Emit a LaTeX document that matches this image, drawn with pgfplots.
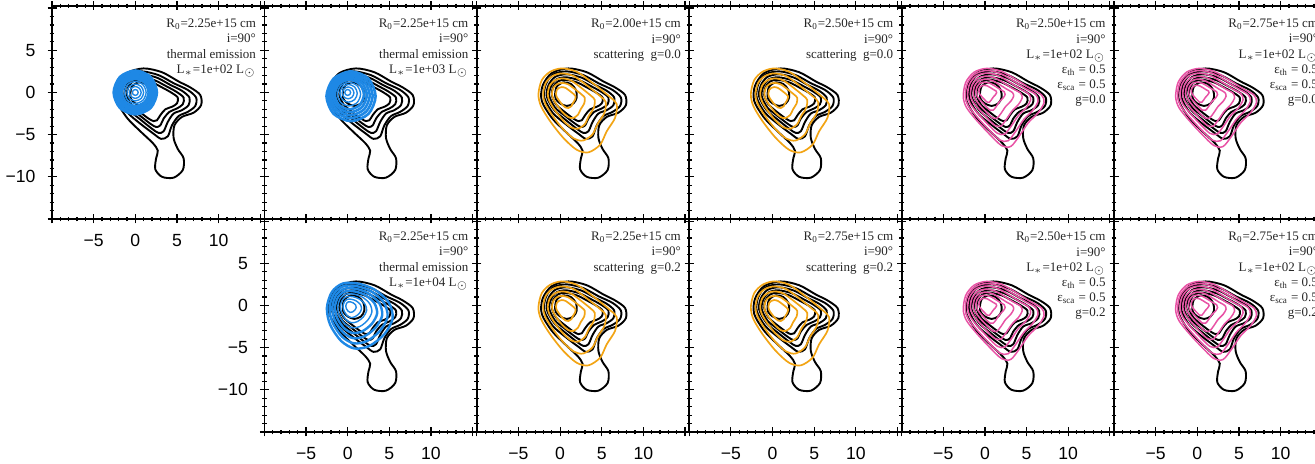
\documentclass[border=0pt]{standalone}
\usepackage{fontspec}
\setmainfont{Liberation Serif}
\setsansfont{Liberation Sans}
\usepackage{pgfplots}
\usepackage{pgfplotstable}
\pgfplotsset{compat=1.18}

\definecolor{thermblue}{RGB}{30,136,229}
\definecolor{scatorange}{RGB}{242,164,20}
\definecolor{mixpink}{RGB}{232,82,165}

% ---------------- observed contours (same in every panel) ----------------
\pgfplotstableread{
x y
-2.2 -1.0
-2.1 0.8
-1.0 2.3
1.0 2.85
3.2 2.4
5.2 1.3
6.6 0.6
7.8 -0.3
7.9 -1.5
7.0 -2.4
5.6 -2.9
4.7 -3.9
4.6 -5.4
5.1 -6.7
5.8 -7.8
5.7 -9.2
4.6 -10.1
3.2 -10.0
2.4 -9.1
2.5 -7.8
2.7 -6.9
2.1 -6.0
0.6 -4.6
-1.0 -3.0
}\obsOuter

\pgfplotstableread{
x2 y2 x3 y3 x4 y4 x5 y5
-1.9 -0.6 -1.6 -0.5 -1.3 -0.4 -1.0 -0.3
-1.7 1.0 -1.4 0.85 -1.1 0.7 -0.85 0.6
-0.8 2.15 -0.6 1.85 -0.45 1.55 -0.3 1.3
0.8 2.5 0.8 2.15 0.7 1.8 0.6 1.5
2.8 2.05 2.6 1.75 2.3 1.45 2.0 1.2
4.6 1.1 4.2 0.9 3.7 0.75 3.2 0.6
6.3 0.3 5.6 0.2 4.9 0.1 4.3 0.0
7.3 -0.6 6.5 -0.6 5.8 -0.6 5.1 -0.6
7.2 -1.6 6.4 -1.5 5.7 -1.4 5.0 -1.3
6.3 -2.3 5.6 -2.1 5.0 -1.9 4.4 -1.7
5.2 -2.8 4.6 -2.5 4.1 -2.3 3.6 -2.0
4.4 -3.9 3.9 -3.5 3.4 -3.1 3.0 -2.7
3.9 -5.2 3.4 -4.6 3.0 -3.9 2.6 -3.3
3.1 -5.5 2.8 -4.8 2.5 -4.1 2.2 -3.4
2.2 -4.9 2.0 -4.3 1.8 -3.7 1.6 -3.1
0.6 -3.7 0.6 -3.2 0.5 -2.7 0.4 -2.2
-0.9 -2.4 -0.7 -2.1 -0.6 -1.8 -0.5 -1.4
}\obsInner

\pgfplotstableread{
x y
-0.6 -0.2
-0.4 0.7
0.4 1.2
1.3 1.0
1.9 0.3
2.0 -0.6
1.6 -1.3
0.8 -1.6
0.0 -1.3
-0.5 -0.8
}\obsCore

% ---------------- thermal emission models ----------------
\pgfplotstableread{
x1 y1 x2 y2 x3 y3 x4 y4 x5 y5 x6 y6 x7 y7 x8 y8 x9 y9
0.35 0 0.7 0 1 0 1.3 0 1.6 0 1.85 0 2.1 0 2.35 0 2.6 0
0.25 0.25 0.49 0.49 0.71 0.71 0.92 0.92 1.13 1.13 1.31 1.31 1.48 1.48 1.66 1.66 1.84 1.84
0 0.35 0 0.7 0 1 0 1.3 0 1.6 0 1.85 0 2.1 0 2.35 0 2.6
-0.25 0.25 -0.49 0.49 -0.71 0.71 -0.92 0.92 -1.13 1.13 -1.31 1.31 -1.48 1.48 -1.66 1.66 -1.84 1.84
-0.35 0 -0.7 0 -1 0 -1.3 0 -1.6 0 -1.85 0 -2.1 0 -2.35 0 -2.6 0
-0.25 -0.25 -0.49 -0.49 -0.71 -0.71 -0.92 -0.92 -1.13 -1.13 -1.31 -1.31 -1.48 -1.48 -1.66 -1.66 -1.84 -1.84
0 -0.35 0 -0.7 0 -1 0 -1.3 0 -1.6 0 -1.85 0 -2.1 0 -2.35 0 -2.6
0.25 -0.25 0.49 -0.49 0.71 -0.71 0.92 -0.92 1.13 -1.13 1.31 -1.31 1.48 -1.48 1.66 -1.66 1.84 -1.84
}\thermA

\pgfplotstableread{
x1 y1 x2 y2 x3 y3 x4 y4 x5 y5 x6 y6 x7 y7 x8 y8 x9 y9
0.35 0 0.75 -0.05 1.15 -0.1 1.55 -0.2 1.95 -0.25 2.3 -0.3 2.65 -0.35 3.0 -0.4 3.35 -0.45
0.25 0.25 0.54 0.44 0.84 0.64 1.14 0.79 1.44 0.99 1.7 1.15 1.96 1.31 2.22 1.47 2.49 1.64
0 0.35 0.05 0.65 0.1 0.95 0.15 1.2 0.2 1.5 0.25 1.75 0.3 2.0 0.35 2.25 0.4 2.5
-0.25 0.25 -0.44 0.44 -0.64 0.64 -0.84 0.79 -1.04 0.99 -1.2 1.15 -1.36 1.31 -1.52 1.47 -1.69 1.64
-0.35 0 -0.65 -0.05 -0.95 -0.1 -1.25 -0.2 -1.55 -0.25 -1.8 -0.3 -2.05 -0.35 -2.3 -0.4 -2.55 -0.45
-0.25 -0.25 -0.44 -0.54 -0.64 -0.84 -0.84 -1.19 -1.04 -1.49 -1.2 -1.75 -1.36 -2.01 -1.52 -2.27 -1.69 -2.54
0 -0.35 0.05 -0.75 0.1 -1.15 0.15 -1.6 0.2 -2.0 0.25 -2.35 0.3 -2.7 0.35 -3.05 0.4 -3.4
0.25 -0.25 0.54 -0.54 0.84 -0.84 1.14 -1.19 1.44 -1.49 1.7 -1.75 1.96 -2.01 2.22 -2.27 2.49 -2.54
}\thermB

\pgfplotstableread{
x1 y1 x2 y2 x3 y3 x4 y4 x5 y5 x6 y6 x7 y7 x8 y8
-2.5 -0.3 -2.18 -0.26 -1.85 -0.23 -1.53 -0.19 -1.2 -0.16 -0.88 -0.12 -0.56 -0.08 -0.23 -0.05
-1.9 1.6 -1.65 1.41 -1.4 1.22 -1.14 1.02 -0.89 0.83 -0.64 0.64 -0.39 0.45 -0.14 0.26
-0.6 2.6 -0.5 2.29 -0.41 1.98 -0.31 1.66 -0.22 1.35 -0.12 1.04 -0.02 0.73 0.07 0.42
1.2 2.6 1.08 2.29 0.96 1.98 0.84 1.66 0.72 1.35 0.6 1.04 0.48 0.73 0.36 0.42
3.2 1.9 2.84 1.67 2.48 1.44 2.12 1.22 1.76 0.99 1.4 0.76 1.04 0.53 0.68 0.3
4.9 0.4 4.34 0.35 3.77 0.3 3.21 0.26 2.64 0.21 2.08 0.16 1.52 0.11 0.95 0.06
5.4 -1.5 4.78 -1.32 4.15 -1.14 3.53 -0.96 2.9 -0.78 2.28 -0.6 1.66 -0.42 1.03 -0.24
4.4 -3.4 3.9 -2.99 3.39 -2.58 2.89 -2.18 2.38 -1.77 1.88 -1.36 1.38 -0.95 0.87 -0.54
2.6 -4.8 2.31 -4.22 2.02 -3.65 1.74 -3.07 1.45 -2.5 1.16 -1.92 0.87 -1.34 0.58 -0.77
0.8 -5.1 0.73 -4.49 0.66 -3.88 0.58 -3.26 0.51 -2.65 0.44 -2.04 0.37 -1.43 0.3 -0.82
-0.8 -4.2 -0.68 -3.7 -0.56 -3.19 -0.44 -2.69 -0.32 -2.18 -0.2 -1.68 -0.08 -1.18 0.04 -0.67
-2.1 -2.3 -1.82 -2.02 -1.55 -1.75 -1.27 -1.47 -1.0 -1.2 -0.72 -0.92 -0.44 -0.64 -0.17 -0.37
}\thermC

% ---------------- scattering models ----------------
\pgfplotstableread{
x1 y1 x2 y2 x3 y3 x4 y4 x5 y5
-2.6 -0.2 -2.04 -0.18 -1.48 -0.16 -0.98 -0.14 -0.5 -0.13
-2.2 1.45 -1.72 1.14 -1.24 0.83 -0.81 0.55 -0.4 0.29
-1.2 2.45 -0.92 1.94 -0.64 1.43 -0.39 0.97 -0.15 0.54
0.2 2.85 0.2 2.26 0.2 1.67 0.2 1.14 0.2 0.64
2.0 2.45 1.64 1.94 1.28 1.43 0.96 0.97 0.65 0.54
4.0 1.05 3.24 0.82 2.48 0.59 1.8 0.38 1.15 0.19
6.0 -0.55 4.84 -0.46 3.68 -0.37 2.64 -0.29 1.65 -0.21
6.8 -1.4 5.48 -1.14 4.16 -0.88 2.97 -0.65 1.85 -0.43
6.6 -3.0 5.32 -2.42 4.04 -1.84 2.89 -1.32 1.8 -0.83
5.6 -4.6 4.52 -3.7 3.44 -2.8 2.47 -1.99 1.55 -1.23
4.8 -6.2 3.88 -4.98 2.96 -3.76 2.13 -2.66 1.35 -1.63
3.4 -7.1 2.76 -5.7 2.12 -4.3 1.54 -3.04 1.0 -1.85
2.0 -6.8 1.64 -5.46 1.28 -4.12 0.96 -2.91 0.65 -1.78
0.4 -5.4 0.36 -4.34 0.32 -3.28 0.28 -2.33 0.25 -1.43
-1.2 -3.4 -0.92 -2.74 -0.64 -2.08 -0.39 -1.49 -0.15 -0.93
-2.3 -1.6 -1.8 -1.3 -1.3 -1.0 -0.85 -0.73 -0.43 -0.48
}\scat

% ---------------- thermal + scattering models ----------------
\pgfplotstableread{
x1 y1 x2 y2 x3 y3 x4 y4 x5 y5 x6 y6 x7 y7
-2.6 -0.5 -2.36 -0.42 -2.07 -0.32 -1.74 -0.21 -1.4 -0.1 -1.06 0.01 -0.73 0.12
-2.3 1.2 -2.09 1.11 -1.84 1.0 -1.54 0.88 -1.25 0.75 -0.96 0.62 -0.66 0.5
-1.3 2.4 -1.19 2.19 -1.06 1.94 -0.9 1.64 -0.75 1.35 -0.6 1.06 -0.44 0.76
0.2 2.85 0.16 2.6 0.11 2.29 0.06 1.93 0.0 1.58 -0.06 1.22 -0.11 0.86
2.0 2.5 1.78 2.28 1.52 2.02 1.21 1.71 0.9 1.4 0.59 1.09 0.28 0.78
3.8 1.5 3.4 1.38 2.92 1.24 2.36 1.07 1.8 0.9 1.24 0.73 0.68 0.56
5.4 0.5 4.84 0.48 4.17 0.46 3.38 0.43 2.6 0.4 1.82 0.37 1.03 0.34
6.8 -0.3 6.1 -0.24 5.26 -0.17 4.28 -0.08 3.3 0.0 2.32 0.08 1.34 0.17
7.1 -1.2 6.37 -1.05 5.49 -0.87 4.47 -0.66 3.45 -0.45 2.43 -0.24 1.41 -0.03
6.4 -2.4 5.74 -2.13 4.95 -1.81 4.02 -1.43 3.1 -1.05 2.18 -0.67 1.25 -0.29
5.2 -3.6 4.66 -3.21 4.01 -2.74 3.26 -2.2 2.5 -1.65 1.74 -1.1 0.99 -0.56
4.1 -5.2 3.67 -4.65 3.15 -3.99 2.55 -3.22 1.95 -2.45 1.35 -1.68 0.75 -0.91
3.1 -6.4 2.77 -5.73 2.37 -4.93 1.91 -3.99 1.45 -3.05 0.99 -2.11 0.53 -1.17
2.0 -6.3 1.78 -5.64 1.52 -4.85 1.21 -3.92 0.9 -3.0 0.59 -2.08 0.28 -1.15
0.6 -5.0 0.52 -4.47 0.42 -3.83 0.31 -3.09 0.2 -2.35 0.09 -1.61 -0.02 -0.87
-1.0 -3.3 -0.92 -2.94 -0.82 -2.51 -0.71 -2.0 -0.6 -1.5 -0.49 -1.0 -0.38 -0.49
-2.2 -1.8 -2.0 -1.59 -1.76 -1.34 -1.48 -1.04 -1.2 -0.75 -0.92 -0.46 -0.64 -0.16
}\mixed

\tikzset{
  ann/.style={anchor=north east, align=right, inner sep=0pt,
    font=\fontsize{6.5}{7.6}\selectfont, text=black!85},
}

\pgfplotsset{
  panel/.style={
    scale only axis, width=106.2pt, height=106.5pt,
    anchor=south west,
    xmin=-10, xmax=15.5, ymin=-15, ymax=10.25,
    xtick={-10,-5,0,5,10,15}, ytick={-15,-10,-5,0,5,10},
    minor x tick num=4, minor y tick num=4,
    xtick pos=both, ytick pos=both, tick align=center,
    major tick length=4.5pt, minor tick length=2.4pt,
    every tick/.style={black, line width=0.6pt},
    axis line style={line width=0.9pt},
    xticklabels={}, yticklabels={},
    tick label style={font=\sffamily\fontsize{8.8}{9}\selectfont},
    xticklabel style={yshift=-2pt},
    yticklabel style={xshift=-2.5pt},
  },
  xlab/.style={xticklabels={,−5,0,5,10,}},
  ylab/.style={yticklabels={,−10,−5,0,5,}},
  obs/.style={black, line width=0.95pt, smooth cycle, no markers},
  therm/.style={thermblue, line width=0.7pt, smooth cycle, no markers},
  scatl/.style={scatorange, line width=0.85pt, smooth cycle, no markers},
  mixl/.style={mixpink, line width=0.75pt, smooth cycle, no markers},
}

\newcommand{\observed}{%
  \addplot[obs] table {\obsOuter};
  \pgfplotsinvokeforeach{2,3,4,5}{\addplot[obs] table[x=x##1,y=y##1] {\obsInner};}
  \addplot[obs] table {\obsCore};
}
\newcommand{\thermalA}{%
  \pgfplotsinvokeforeach{1,2,3,4}{\addplot[therm] table[x=x##1,y=y##1] {\thermA};}
  \pgfplotsinvokeforeach{5,6,7,8,9}{\addplot[therm, line width=1.3pt] table[x=x##1,y=y##1] {\thermA};}
}
\newcommand{\thermalB}{%
  \pgfplotsinvokeforeach{1,2,3,4}{\addplot[therm] table[x=x##1,y=y##1] {\thermB};}
  \pgfplotsinvokeforeach{5,6,7,8,9}{\addplot[therm, line width=1.3pt] table[x=x##1,y=y##1] {\thermB};}
}
\newcommand{\thermalC}{%
  \pgfplotsinvokeforeach{1,2,3,4}{\addplot[therm, line width=1.2pt] table[x=x##1,y=y##1] {\thermC};}
  \pgfplotsinvokeforeach{5,6,7,8}{\addplot[therm] table[x=x##1,y=y##1] {\thermC};}
}
\newcommand{\scattering}{%
  \pgfplotsinvokeforeach{1,2,3,4,5}{\addplot[scatl] table[x=x##1,y=y##1] {\scat};}
}
\newcommand{\combined}{%
  \pgfplotsinvokeforeach{1,2,3,4,5,6,7}{\addplot[mixl] table[x=x##1,y=y##1] {\mixed};}
}

\begin{document}
\begin{tikzpicture}
\useasboundingbox (0,0) rectangle (657.5pt,232pt);
\clip (0,0) rectangle (657.5pt,232pt);

% ----- top row -----
\begin{axis}[panel, xlab, ylab, at={(26pt,122.5pt)}]
  \observed \thermalA
  \node[ann] at (rel axis cs:0.962,0.94) {R\textsubscript{0}=2.25e+15 cm\\ i=90°\\ thermal emission\\ L$_*$=1e+02 L$_\odot$};
\end{axis}
\begin{axis}[panel, at={(132.2pt,122.5pt)}]
  \observed \thermalB
  \node[ann] at (rel axis cs:0.962,0.94) {R\textsubscript{0}=2.25e+15 cm\\ i=90°\\ thermal emission\\ L$_*$=1e+03 L$_\odot$};
\end{axis}
\begin{axis}[panel, at={(238.4pt,122.5pt)}]
  \observed \scattering
  \node[ann] at (rel axis cs:0.962,0.94) {R\textsubscript{0}=2.00e+15 cm\\ i=90°\\ scattering~~g=0.0};
\end{axis}
\begin{axis}[panel, at={(344.6pt,122.5pt)}]
  \observed \scattering
  \node[ann] at (rel axis cs:0.962,0.94) {R\textsubscript{0}=2.50e+15 cm\\ i=90°\\ scattering~~g=0.0};
\end{axis}
\begin{axis}[panel, at={(450.8pt,122.5pt)}]
  \observed \combined
  \node[ann] at (rel axis cs:0.962,0.94) {R\textsubscript{0}=2.50e+15 cm\\ i=90°\\ L$_*$=1e+02 L$_\odot$\\ ε\textsubscript{th} = 0.5\\ ε\textsubscript{sca} = 0.5\\ g=0.0};
\end{axis}
\begin{axis}[panel, at={(557.0pt,122.5pt)}]
  \observed \combined
  \node[ann] at (rel axis cs:0.962,0.94) {R\textsubscript{0}=2.75e+15 cm\\ i=90°\\ L$_*$=1e+02 L$_\odot$\\ ε\textsubscript{th} = 0.5\\ ε\textsubscript{sca} = 0.5\\ g=0.0};
\end{axis}

% ----- bottom row -----
\begin{axis}[panel, xlab, ylab, at={(132.2pt,16pt)}]
  \observed \thermalC
  \node[ann] at (rel axis cs:0.962,0.94) {R\textsubscript{0}=2.25e+15 cm\\ i=90°\\ thermal emission\\ L$_*$=1e+04 L$_\odot$};
\end{axis}
\begin{axis}[panel, xlab, at={(238.4pt,16pt)}]
  \observed \scattering
  \node[ann] at (rel axis cs:0.962,0.94) {R\textsubscript{0}=2.25e+15 cm\\ i=90°\\ scattering~~g=0.2};
\end{axis}
\begin{axis}[panel, xlab, at={(344.6pt,16pt)}]
  \observed \scattering
  \node[ann] at (rel axis cs:0.962,0.94) {R\textsubscript{0}=2.75e+15 cm\\ i=90°\\ scattering~~g=0.2};
\end{axis}
\begin{axis}[panel, xlab, at={(450.8pt,16pt)}]
  \observed \combined
  \node[ann] at (rel axis cs:0.962,0.94) {R\textsubscript{0}=2.50e+15 cm\\ i=90°\\ L$_*$=1e+02 L$_\odot$\\ ε\textsubscript{th} = 0.5\\ ε\textsubscript{sca} = 0.5\\ g=0.2};
\end{axis}
\begin{axis}[panel, xlab, at={(557.0pt,16pt)}]
  \observed \combined
  \node[ann] at (rel axis cs:0.962,0.94) {R\textsubscript{0}=2.75e+15 cm\\ i=90°\\ L$_*$=1e+02 L$_\odot$\\ ε\textsubscript{th} = 0.5\\ ε\textsubscript{sca} = 0.5\\ g=0.2};
\end{axis}
\end{tikzpicture}
\end{document}
